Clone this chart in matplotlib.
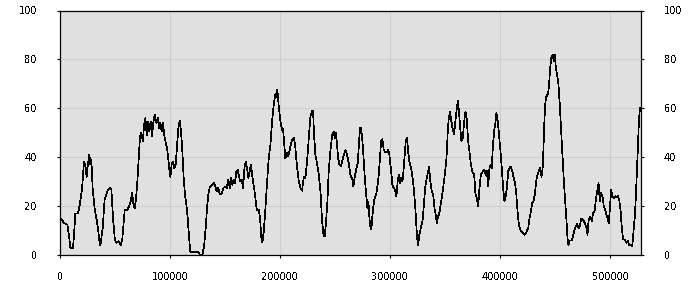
import matplotlib
matplotlib.use('Agg')
import matplotlib.pyplot as plt
import numpy as np

# position (thousands) and value
x_k = [0, 4.2, 6.7, 8.2, 9.4, 11.8, 12.7, 13.9, 16.4, 17.9, 20, 21.8, 23, 24.2, 25.5, 26.7, 27.6, 28.5,
       29.7, 31.5, 33.3, 34.5, 35.8, 36.7, 37.6, 38.8, 40.6, 42.1, 43.6, 45.2, 46.7, 48.2, 49.7, 50.6,
       51.5, 53.3, 55.2, 56.7, 58.8, 61.2, 63, 64.2, 65.5, 66.7, 67.9, 69.1, 70.3, 71.5, 72.7, 73.9,
       75.2, 76.4, 77.6, 78.8, 80, 81.2, 82.4, 83.6, 84.8, 86.1,
       87.6, 88.8, 90, 91.2, 92.4, 93.6, 94.8, 96.1, 97.3, 98.5, 99.7, 100.3, 101.5, 102.7, 103.9,
       105.2, 106.4, 107.6, 108.8, 110, 111.2, 112.4, 113.6, 114.8, 116.1, 117.3, 118.5, 125.7, 127.3,
       129.4, 130.9, 132.4, 133.6, 134.8, 136.1, 137.9, 139.7, 140.9, 142.4, 143.9, 145.4, 147, 148.5,
       150, 151.5, 153, 154.2, 155.5, 156.7, 157.9, 159.1, 160.3, 161.5, 162.7, 163.9, 165.2, 166.4,
       167.6, 168.8, 170, 171.2, 172.4, 173.6, 174.8,
       176.4, 177.6, 178.8, 180.6, 181.8, 183, 183.9, 185.2, 186.7, 188.2, 189.7, 191.2, 192.7, 194.2,
       195.7, 196.6, 197.5, 198.8, 200.3, 201.8, 202.7, 203.9, 204.8, 206.1, 207.3, 208.5, 209.7,
       210.9, 212.7, 213.9, 215.4, 217, 218.5, 220, 221.5, 223, 224.5, 226.1, 227.6, 229.1, 230, 230.9,
       232.1, 233.6, 235.2, 236.7, 238.2, 239.4, 240.6, 241.8, 243, 244.2, 245.7, 247.3, 248.8, 249.7,
       250.9, 251.8, 252.7, 253.9, 255.2, 256.4, 257.9, 259.4, 260.9, 262.4, 263.9,
       265.7, 266.6, 267.9, 269.4, 270.6, 271.8, 272.7, 273.6, 274.8, 275.7, 277, 278.2, 279.4, 280.3,
       281.2, 282.4, 283.3, 284.5, 285.7, 287.5, 289.1, 290.6, 291.8, 293, 294.2, 295.4, 297.3, 298.2,
       299.3, 300.6, 302.1, 303.3, 304.5, 305.7, 307, 308.2, 309.1, 310, 311.2, 312.1, 313.3, 314.2,
       315.4, 316.3, 317.5, 319.1, 320.3, 321.5, 322.7, 323.6, 324.5, 325.4, 326.6, 328.2, 329.4,
       330.6, 331.8, 333.3, 334.5, 335.4, 336.6, 337.9, 339.1, 340.3, 341.5, 342.4, 343.6, 344.5,
       345.7, 346.9, 348.2, 349.7, 351.2,
       352.4, 353.3, 354.5, 355.7, 357, 358.2, 359.4, 360.6, 361.5, 362.4, 363.6, 364.8, 366.1, 367.3,
       368.5, 369.7, 370.9, 372.1, 373.3, 374.5, 376.4, 377.6, 378.8, 380, 381.2, 382.4, 384.2, 385.7,
       387, 387.9, 389.1, 390.3, 391.5, 392.4, 393.3, 394.5, 395.7, 396.6, 397.9, 399.1, 400.3, 401.5,
       402.7, 403.9, 404.8, 406.1, 407.3, 408.5, 409.7, 410.9, 412.1, 413.3, 414.5, 415.7, 417, 418.2,
       419.4, 420.6, 421.8, 423, 424.2, 425.5, 426.7, 427.9, 429.1, 430.3, 431.5, 432.7, 433.9, 435.2,
       436.4, 437.6, 438.8,
       440.3, 441.2, 442.1, 443.6, 444.5, 445.4, 446.6, 447.9, 448.8, 449.7, 450.6, 451.8, 453, 454.2,
       455.5, 456.7, 457.9, 459.1, 460.3, 461.2, 462.1, 463, 465.2, 466.4, 467.6, 468.8, 470, 471.2,
       472.5, 473.6, 474.8, 476.1, 477.3, 478.5, 479.4, 480.3, 481.5, 482.4, 483.3, 484.5, 485.8, 487,
       488.2, 489.4, 490.6, 491.8, 493, 494.2, 495.4, 496.6, 497.9, 498.8, 499.7, 500.9, 502.1, 503.4,
       504.5, 505.7, 507, 508.2, 509.4, 510.6, 511.8, 513.3, 514.8, 516.1, 517.2, 518.5, 520, 521.2,
       522.5, 523.4, 524.3, 525.2, 526.1, 527]

values = [15, 13, 12.4, 8, 3, 3, 8, 17, 17, 20.5, 27, 38, 37, 32, 37.6, 41, 37, 39,
          27, 19, 14.4, 11, 5.6, 4, 7, 11, 23, 24.7, 26.7, 27.4, 26.7, 15, 7, 5.6,
          5, 5.6, 4, 7, 18.5, 18.5, 20, 22, 25.3, 21, 19, 23, 30, 39.6, 48.5, 50,
          46.5, 53, 56, 49, 54.6, 50.5, 54.6, 48.5, 54, 57.4,
          54, 56, 52, 54, 50.5, 54, 49, 45.8, 43.7, 39, 33.5, 32, 37, 38.3, 35.6,
          37, 45, 52, 55, 50.5, 42.4, 31.5, 24.7, 20.6, 15, 7, 1.2, 1.2, 0,
          0, 3.5, 11, 19, 24.7, 27.7, 28.5, 29.4, 28.7, 26, 27.4, 24.7, 25.3, 27.4,
          28, 27.4, 30.8, 27.4, 31.5, 28.7, 30.8, 29.4, 34.2, 34.9, 32, 30, 30.8, 27.4,
          35.6, 38, 35.6, 31.5, 34.2, 37, 32,
          27.4, 23.3, 18.5, 18.5, 15, 7, 5.2, 9.7, 19.2, 30, 39.6, 45, 54.6, 61.4,
          65.8, 64.4, 67.6, 60.8, 54.6, 51.2, 51.6, 45, 39.6, 41.7, 40.3, 42.4, 45,
          47, 47.8, 43.7, 36.2, 30, 27.4, 26.3, 32, 31.5, 38.3, 47.8, 56.7, 59, 58.7, 49,
          41, 37.6, 32.8, 26, 13.8, 8.3, 7.6, 13.8, 21.9, 34.2, 42.4, 49, 50.5, 47.8,
          50, 45, 39.6, 37, 36.2, 38.3, 41, 43, 41, 37.6, 32.8,
          30.8, 28, 32, 35.6, 37.6, 46.5, 52, 52.2, 46.5, 41, 31.5, 24.7, 19.2, 21.9,
          15, 10.4, 12.4, 19.2, 22.6, 25.3, 30, 38.3, 46.5, 47.4, 43, 42.1, 42.1, 43,
          41, 35.6, 28.7, 27.4, 26.7, 24, 30.8, 32.8, 29.4, 31.5, 30, 34.2, 41, 46.5,
          48, 42.4, 38.3, 35.6, 32, 27.4, 20.6, 13.8, 7.2, 4, 8.3, 11.7, 13.8,
          19.9, 27.4, 31.5, 34.2, 36.2, 30, 26, 24.7, 19.2, 16.5, 13, 15.8, 16.5,
          19.9, 23.3, 27.4, 32.8, 39.6,
          50.5, 56, 58.4, 54.6, 51.2, 49.5, 55.3, 60, 63, 59.4, 52.6, 46.5, 47.8, 54.6,
          58.7, 55.3, 46.5, 42.4, 37.6, 34.2, 32.8, 24.7, 23.3, 19.9, 27.4, 32.8, 34.2, 34.9,
          32.8, 34.5, 28, 35.6, 37, 35.6, 43.7, 50.5, 54, 58, 54.6, 48.5, 42.4, 35.6,
          27.4, 21.9, 23.3, 27.4, 34.2, 35.6, 36.2, 34.5, 32, 30, 26, 18.5, 12.4, 10.4,
          9.7, 9, 8.3, 8.6, 9.7, 11, 15, 17.8, 21.5, 22, 24.7, 30, 32.8, 34.2,
          35.8, 32, 36.2,
          56, 62.8, 64.9, 66.2, 69.6, 76.4, 81.2, 81.9, 79.2, 81.9, 76.4, 73.7, 69.6, 61.4,
          50.5, 39.6, 30, 21.9, 13.8, 7, 4, 5.9, 5.9, 8.3, 10.4, 11.7, 12.7, 11,
          11.7, 14.9, 14.4, 13.8, 12.7, 11, 8.3, 13.8, 15.8, 15.1, 13.8, 17.2, 17.8, 22.6,
          26, 29.4, 21.9, 25.3, 24, 19.9, 18.5, 16.5, 14.4, 13, 19.2, 26.7, 24, 23.3,
          24, 23.6, 24, 22.6, 18.5, 11, 6.3, 6.3, 4.9, 5.9, 4.2, 4, 3.5, 9.7,
          16.5, 24.7, 34.2, 45, 54.6, 60]

x_ticks = [0, 100000, 200000, 300000, 400000, 500000]
y_ticks = [0, 20, 40, 60, 80, 100]

xs = np.array(x_k) * 1000

plt.rcParams['font.family'] = ['DejaVu Sans']
plt.rcParams['text.antialiased'] = False

fig = plt.figure(figsize=(7, 3), dpi=100)
ax = fig.add_axes([60 / 700, 45 / 300, 581 / 700, 244.5 / 300])
ax.set_facecolor('#e0e0e0')

ax.plot(xs, values, color='black', linewidth=0.5, antialiased=False)

ax.set_xlim(0, 528000)
ax.set_ylim(0, 100)
ax.set_xticks(x_ticks)
ax.set_xticklabels([str(t) for t in x_ticks])
ax.set_yticks(y_ticks)
ax.set_yticklabels([str(t) for t in y_ticks])

ax.grid(True, color='#cecece', linewidth=0.8)
ax.set_axisbelow(True)

for sp in ax.spines.values():
    sp.set_color('black')
    sp.set_linewidth(0.9)

ax.tick_params(axis='y', which='both', left=True, right=True, labelleft=True, labelright=True,
               length=2.5, width=0.8, pad=14, labelsize=7, direction='out')
ax.tick_params(axis='x', length=2.5, width=0.8, pad=10, labelsize=7, direction='out')

fig.savefig('out.png', dpi=100)
